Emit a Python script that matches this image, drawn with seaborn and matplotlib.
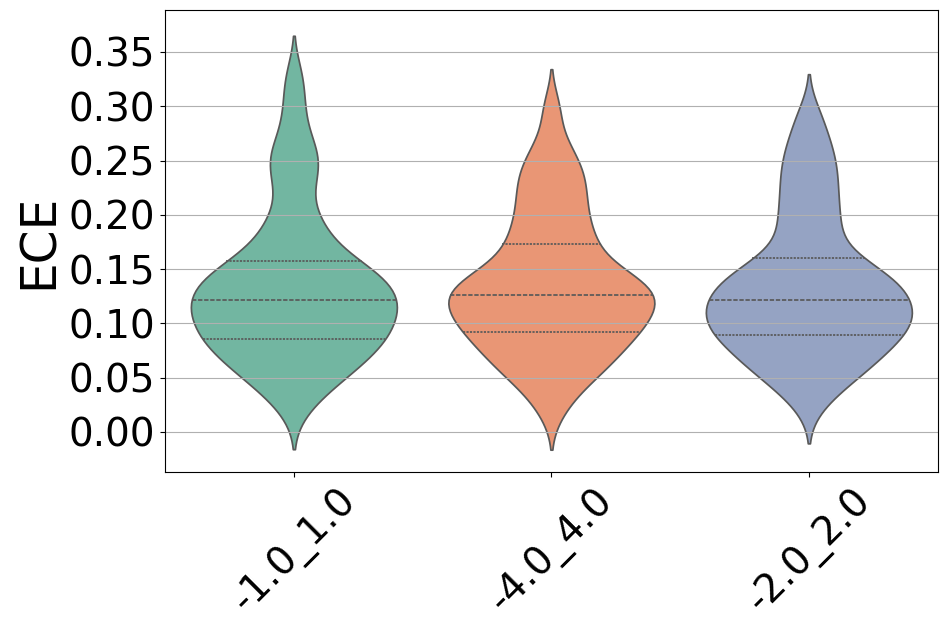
import matplotlib
matplotlib.use("Agg")
import matplotlib.pyplot as plt
import numpy as np
import pandas as pd
import seaborn as sns

# ECE values per setting
ece_1_1 = [0.0230, 0.0370, 0.0445, 0.0505, 0.0556, 0.0602, 0.0646, 0.0687, 0.0725, 0.0761,
           0.0795, 0.0828, 0.0852, 0.0873, 0.0910, 0.0945, 0.0975, 0.1006, 0.1035, 0.1062,
           0.1090, 0.1117, 0.1144, 0.1170, 0.1203, 0.1229, 0.1252, 0.1280, 0.1307, 0.1336,
           0.1362, 0.1392, 0.1424, 0.1458, 0.1490, 0.1525, 0.1558, 0.1574, 0.1690, 0.1757,
           0.1836, 0.1931, 0.2046, 0.2250, 0.2400, 0.2480, 0.2580, 0.2720, 0.2980, 0.3260]
ece_4_4 = [0.0198, 0.0370, 0.0455, 0.0520, 0.0576, 0.0626, 0.0671, 0.0714, 0.0754, 0.0791,
           0.0827, 0.0875, 0.0920, 0.0935, 0.0960, 0.0990, 0.1020, 0.1050, 0.1080, 0.1110,
           0.1140, 0.1170, 0.1197, 0.1222, 0.1250, 0.1270, 0.1290, 0.1312, 0.1337, 0.1364,
           0.1392, 0.1424, 0.1459, 0.1496, 0.1536, 0.1610, 0.1700, 0.1738, 0.1790, 0.1870,
           0.1950, 0.2030, 0.2110, 0.2190, 0.2280, 0.2360, 0.2440, 0.2530, 0.2680, 0.2980]
ece_2_2 = [0.0260, 0.0395, 0.0465, 0.0522, 0.0573, 0.0619, 0.0661, 0.0700, 0.0737, 0.0771,
           0.0804, 0.0835, 0.0888, 0.0908, 0.0930, 0.0955, 0.0980, 0.1005, 0.1032, 0.1058,
           0.1085, 0.1111, 0.1137, 0.1163, 0.1205, 0.1227, 0.1250, 0.1275, 0.1300, 0.1331,
           0.1362, 0.1395, 0.1425, 0.1455, 0.1490, 0.1535, 0.1580, 0.1605, 0.1749, 0.1835,
           0.1924, 0.2011, 0.2105, 0.2210, 0.2306, 0.2405, 0.2504, 0.2611, 0.2742, 0.2930]
settings = ['-1.0_1.0', '-4.0_4.0', '-2.0_2.0']

df = pd.concat([
    pd.DataFrame({'setting': name, 'ECE': vals})
    for name, vals in zip(settings, [ece_1_1, ece_4_4, ece_2_2])
])

fig, ax = plt.subplots(figsize=(9.49, 6.3))
sns.violinplot(data=df, x='setting', y='ECE', hue='setting', order=settings,
               palette='Set2', inner='quart', bw_adjust=0.62, legend=False, ax=ax)
ax.grid(axis='y')
ax.set_xlabel('')
ax.set_ylabel('ECE', fontsize=35)
ax.set_ylim(-0.0368, 0.3886)
ax.set_yticks(np.arange(0, 0.36, 0.05))
ax.tick_params(axis='both', labelsize=28)
plt.xticks(rotation=45)
plt.subplots_adjust(left=0.174, right=0.988, top=0.984, bottom=0.251)
plt.savefig('out.png', dpi=100)
